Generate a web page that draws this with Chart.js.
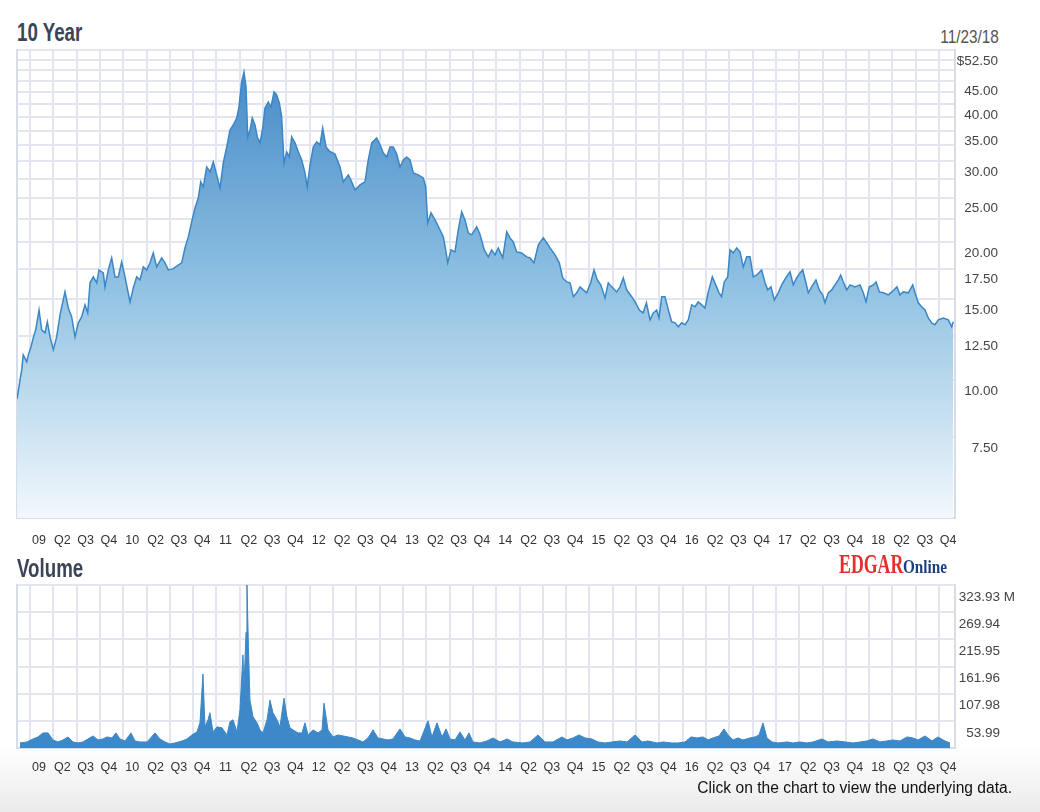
<!DOCTYPE html>
<html>
<head>
<meta charset="utf-8">
<script src="https://cdn.jsdelivr.net/npm/chart.js@4.4.1/dist/chart.umd.min.js"></script>
<style>
    body {
        margin: 0;
        width: 1040px;
        height: 812px;
        position: relative;
        overflow: hidden;
        background: linear-gradient(to bottom, #ffffff 0px, #ffffff 745px, #ebebeb 812px);
        font-family: 'Liberation Sans', sans-serif;
    }
    .heading {
        position: absolute;
        left: 17px;
        font-size: 26px;
        font-weight: bold;
        color: #3b4456;
        white-space: nowrap;
        transform: scaleX(0.72);
        transform-origin: 0 0;
    }
    #asof {
        position: absolute; right: 41px; top: 27px; font-size: 18px; color: #555;
        transform: scaleX(0.85); transform-origin: 100% 0;
    }
    #edgar {
        position: absolute; left: 839px; top: 549px;
        font-family: 'Liberation Serif', serif; font-weight: bold; font-size: 27px;
        color: #e2302f; transform: scaleX(0.66); transform-origin: 0 0; white-space: nowrap;
    }
    #online {
        position: absolute; left: 903px; top: 556px;
        font-family: 'Liberation Serif', serif; font-weight: bold; font-size: 18.6px;
        color: #1d3f7d; transform: scaleX(0.82); transform-origin: 0 0; white-space: nowrap;
    }
    #note {
        position: absolute; right: 28px; top: 779px;
        font-size: 15.6px; color: #111; white-space: nowrap;
    }
    #priceBox { position: absolute; left: 0; top: 0; }
    #volumeBox { position: absolute; left: 0; top: 570px; }
</style>
</head>
<body>
<div class="heading" style="top:17px">10 Year</div>
<div id="asof">11/23/18</div>
<canvas id="priceBox" width="1040" height="560"></canvas>
<div class="heading" style="top:553px">Volume</div>
<div id="edgar">EDGAR</div>
<div id="online">Online</div>
<canvas id="volumeBox" width="1040" height="242"></canvas>
<div id="note">Click on the chart to view the underlying data.</div>

<script>
// dates are decimal years
const priceDates = [
    2008.861, 2008.911, 2008.928, 2008.965, 2008.982, 2009.011, 2009.035, 2009.061, 2009.097, 2009.125,
    2009.161, 2009.186, 2009.215, 2009.250, 2009.286, 2009.322, 2009.375, 2009.411, 2009.447, 2009.483,
    2009.518, 2009.554, 2009.590, 2009.619, 2009.644, 2009.679, 2009.715, 2009.740, 2009.786, 2009.804,
    2009.840, 2009.876, 2009.912, 2009.947, 2009.983, 2010.019, 2010.073, 2010.108, 2010.144, 2010.180,
    2010.215, 2010.252, 2010.287, 2010.322, 2010.359, 2010.412, 2010.448, 2010.483, 2010.537, 2010.590,
    2010.627, 2010.662, 2010.698, 2010.734, 2010.770, 2010.805, 2010.831, 2010.859, 2010.895, 2010.931,
    2010.966, 2011.002, 2011.038, 2011.073, 2011.110, 2011.145, 2011.180, 2011.217, 2011.241, 2011.270,
    2011.295, 2011.317, 2011.335, 2011.360, 2011.384, 2011.413, 2011.438, 2011.467, 2011.496, 2011.520,
    2011.556, 2011.585, 2011.617, 2011.646, 2011.674, 2011.699, 2011.724, 2011.753, 2011.781, 2011.807,
    2011.842, 2011.878, 2011.914, 2011.949, 2011.974, 2012.003, 2012.038, 2012.075, 2012.110, 2012.139,
    2012.175, 2012.210, 2012.271, 2012.325, 2012.360, 2012.414, 2012.450, 2012.486, 2012.539, 2012.593,
    2012.628, 2012.665, 2012.718, 2012.754, 2012.789, 2012.826, 2012.861, 2012.896, 2012.933, 2012.968,
    2013.004, 2013.040, 2013.076, 2013.111, 2013.165, 2013.218, 2013.244, 2013.265, 2013.301, 2013.344,
    2013.397, 2013.433, 2013.458, 2013.480, 2013.515, 2013.558, 2013.593, 2013.630, 2013.665, 2013.701,
    2013.737, 2013.791, 2013.826, 2013.872, 2013.915, 2013.952, 2013.987, 2014.022, 2014.070, 2014.113,
    2014.148, 2014.183, 2014.220, 2014.273, 2014.327, 2014.363, 2014.405, 2014.452, 2014.505, 2014.542,
    2014.577, 2014.631, 2014.677, 2014.713, 2014.756, 2014.792, 2014.827, 2014.863, 2014.899, 2014.934,
    2014.971, 2015.013, 2015.049, 2015.084, 2015.121, 2015.167, 2015.202, 2015.239, 2015.292, 2015.328,
    2015.363, 2015.400, 2015.453, 2015.489, 2015.535, 2015.575, 2015.611, 2015.650, 2015.685, 2015.721,
    2015.746, 2015.775, 2015.810, 2015.846, 2015.882, 2015.918, 2015.953, 2015.989, 2016.025, 2016.060,
    2016.097, 2016.132, 2016.167, 2016.204, 2016.239, 2016.275, 2016.318, 2016.354, 2016.390, 2016.418,
    2016.446, 2016.483, 2016.508, 2016.543, 2016.579, 2016.615, 2016.650, 2016.687, 2016.722, 2016.757,
    2016.794, 2016.847, 2016.883, 2016.912, 2016.947, 2016.983, 2017.025, 2017.062, 2017.105, 2017.151,
    2017.186, 2017.222, 2017.258, 2017.287, 2017.322, 2017.347, 2017.383, 2017.429, 2017.465, 2017.501,
    2017.526, 2017.562, 2017.598, 2017.633, 2017.669, 2017.695, 2017.723, 2017.759, 2017.795, 2017.848,
    2017.902, 2017.937, 2017.966, 2018.002, 2018.045, 2018.074, 2018.110, 2018.153, 2018.207, 2018.243,
    2018.297, 2018.331, 2018.366, 2018.420, 2018.467, 2018.492, 2018.527, 2018.563, 2018.599, 2018.634,
    2018.671, 2018.706, 2018.741, 2018.795, 2018.849, 2018.885, 2018.902
];
const prices = [
    9.10, 10.52, 11.35, 10.96, 11.35, 11.82, 12.36, 12.87, 14.22, 12.87,
    12.68, 13.40, 12.42, 11.64, 12.42, 13.87, 15.57, 14.36, 13.73, 12.42,
    13.33, 13.73, 14.59, 14.01, 16.30, 16.79, 16.30, 17.39, 17.13, 15.97,
    17.39, 18.47, 16.79, 16.79, 18.11, 16.79, 14.81, 15.89, 16.79, 16.54,
    17.65, 17.39, 18.02, 18.94, 17.65, 18.47, 18.02, 17.39, 17.50, 17.82,
    18.02, 19.42, 20.53, 22.13, 23.74, 24.96, 27.06, 26.40, 29.17, 28.46,
    29.92, 28.03, 26.25, 29.77, 32.26, 35.13, 36.01, 37.30, 39.42, 44.71,
    47.00, 43.59, 33.91, 35.13, 37.30, 36.01, 33.91, 32.92, 35.48, 39.22,
    40.43, 39.42, 42.52, 41.89, 40.23, 37.49, 29.77, 31.45, 30.68, 33.91,
    32.92, 31.45, 30.22, 28.31, 26.40, 29.46, 32.26, 33.08, 32.59, 35.48,
    32.26, 31.60, 31.13, 29.17, 27.06, 28.03, 27.06, 25.99, 26.65, 27.06,
    30.22, 32.92, 33.74, 32.59, 31.29, 30.68, 32.26, 32.26, 31.13, 29.17,
    30.22, 30.68, 30.22, 28.31, 28.03, 27.61, 26.40, 22.02, 23.16, 22.35,
    21.26, 20.53, 19.23, 18.02, 19.23, 19.04, 21.26, 23.28, 22.35, 20.95,
    20.74, 21.58, 20.80, 19.23, 18.57, 19.23, 18.75, 19.42, 18.47, 21.05,
    20.43, 20.02, 19.04, 18.94, 18.57, 18.47, 18.02, 19.73, 20.43, 19.93,
    19.42, 18.75, 18.02, 16.70, 16.37, 16.30, 15.20, 15.50, 15.97, 15.73,
    15.50, 16.30, 17.39, 16.54, 16.13, 15.11, 16.30, 15.97, 15.57, 15.97,
    16.70, 15.73, 15.20, 14.81, 14.22, 14.01, 14.74, 13.53, 14.01, 14.22,
    13.66, 15.20, 15.20, 14.22, 13.40, 13.33, 13.07, 13.33, 13.20, 13.53,
    14.59, 14.45, 14.81, 14.59, 14.36, 15.57, 16.79, 16.13, 15.50, 15.20,
    16.37, 16.79, 19.23, 18.94, 19.42, 19.04, 17.65, 18.57, 18.57, 16.79,
    16.95, 17.39, 16.30, 15.73, 15.97, 14.96, 15.50, 16.13, 16.70, 17.22,
    16.13, 16.70, 17.13, 17.39, 16.30, 15.50, 15.97, 16.54, 15.73, 15.34,
    14.74, 15.50, 15.73, 16.13, 16.54, 16.95, 16.37, 15.73, 16.13, 15.97,
    16.13, 15.50, 14.81, 15.97, 16.13, 16.37, 15.57, 15.50, 15.34, 15.57,
    15.97, 15.34, 15.57, 15.50, 16.13, 15.50, 14.74, 14.45, 14.22, 13.66,
    13.33, 13.20, 13.53, 13.66, 13.53, 13.07, 13.40
];

const volumeDates = [
    2008.893, 2008.968, 2009.032, 2009.086, 2009.139, 2009.193, 2009.247, 2009.300, 2009.354, 2009.408,
    2009.461, 2009.515, 2009.568, 2009.622, 2009.676, 2009.729, 2009.783, 2009.826, 2009.879, 2009.922,
    2009.965, 2010.019, 2010.083, 2010.126, 2010.180, 2010.255, 2010.341, 2010.394, 2010.448, 2010.501,
    2010.555, 2010.630, 2010.684, 2010.737, 2010.791, 2010.823, 2010.855, 2010.877, 2010.909, 2010.930,
    2010.963, 2011.006, 2011.059, 2011.113, 2011.145, 2011.177, 2011.220, 2011.252, 2011.284, 2011.295,
    2011.317, 2011.327, 2011.343, 2011.359, 2011.392, 2011.435, 2011.467, 2011.499, 2011.542, 2011.574,
    2011.606, 2011.649, 2011.681, 2011.724, 2011.756, 2011.788, 2011.821, 2011.874, 2011.917, 2011.949,
    2011.982, 2012.035, 2012.089, 2012.132, 2012.153, 2012.196, 2012.250, 2012.303, 2012.357, 2012.411,
    2012.464, 2012.518, 2012.571, 2012.625, 2012.679, 2012.732, 2012.786, 2012.840, 2012.893, 2012.968,
    2013.022, 2013.075, 2013.129, 2013.183, 2013.269, 2013.311, 2013.365, 2013.419, 2013.462, 2013.505,
    2013.558, 2013.612, 2013.665, 2013.708, 2013.751, 2013.826, 2013.901, 2013.966, 2014.041, 2014.116,
    2014.180, 2014.287, 2014.363, 2014.448, 2014.523, 2014.609, 2014.706, 2014.759, 2014.824, 2014.888,
    2014.952, 2015.027, 2015.092, 2015.167, 2015.242, 2015.328, 2015.403, 2015.489, 2015.564, 2015.628,
    2015.725, 2015.789, 2015.885, 2015.950, 2016.025, 2016.089, 2016.154, 2016.218, 2016.272, 2016.325,
    2016.390, 2016.443, 2016.486, 2016.540, 2016.593, 2016.647, 2016.722, 2016.776, 2016.819, 2016.861,
    2016.904, 2016.958, 2017.022, 2017.119, 2017.183, 2017.258, 2017.333, 2017.398, 2017.494, 2017.559,
    2017.655, 2017.741, 2017.827, 2017.902, 2017.977, 2018.041, 2018.116, 2018.191, 2018.255, 2018.331,
    2018.406, 2018.470, 2018.523, 2018.599, 2018.674, 2018.738, 2018.813, 2018.867
];
// millions of shares
const volumes = [
    10, 12, 18, 22, 30, 30, 16, 12, 16, 22,
    12, 10, 12, 18, 24, 16, 18, 22, 20, 30,
    18, 14, 30, 14, 12, 12, 30, 18, 12, 8,
    10, 14, 18, 26, 32, 50, 147, 42, 56, 70,
    32, 42, 40, 26, 52, 56, 32, 76, 185, 120,
    230, 323.93, 200, 95, 62, 50, 36, 30, 56, 95,
    70, 56, 42, 99, 62, 40, 36, 30, 30, 50,
    26, 36, 30, 36, 89, 36, 22, 26, 24, 22,
    20, 16, 12, 20, 36, 20, 18, 16, 18, 38,
    22, 20, 16, 14, 54, 22, 50, 22, 38, 18,
    16, 32, 16, 30, 12, 10, 14, 20, 12, 18,
    12, 10, 12, 26, 12, 12, 22, 16, 20, 26,
    20, 18, 12, 10, 12, 14, 12, 26, 12, 14,
    10, 12, 10, 10, 12, 22, 20, 22, 16, 20,
    24, 38, 26, 16, 20, 16, 20, 22, 26, 50,
    20, 12, 10, 12, 10, 12, 10, 12, 18, 12,
    14, 12, 10, 12, 14, 18, 12, 14, 16, 14,
    22, 20, 16, 24, 14, 22, 14, 10
];

const priceLabelValues = [52.5, 45, 40, 35, 30, 25, 20, 17.5, 15, 12.5, 10, 7.5];
const priceMin = 5;
const priceMax = 52.5;
const priceGridStep = 2.5;
const volumeMax = 323.93;
const volumeTickLabels = ['', '53.99', '107.98', '161.96', '215.95', '269.94', '323.93 M'];
const quarterNames = ['', 'Q2', 'Q3', 'Q4'];
const xStart = 2008.8606;
const xEnd = 2018.9206;

const FONT = "'Liberation Sans', Arial, sans-serif";
const GRID = '#e3e6ee';
const BORDER = '#d8dce6';
const BLUE = '#3b86c6';

const priceGrid = [];
for (let v = priceMin; v <= priceMax + 0.001; v += priceGridStep) priceGrid.push(v);

function quarterTicks(scale) {
    const t = [];
    for (let q = 0; q < 40; q++) t.push({ value: 2009 + q * 0.25 });
    scale.ticks = t;
}

function quarterLabel(v) {
    const q = Math.round(v * 4) % 4;
    if (q === 0) return String(Math.round(v) % 100).padStart(2, '0');
    return quarterNames[q];
}

function xAxis(pad) {
    return {
        type: 'linear',
        min: xStart,
        max: xEnd,
        bounds: 'data',
        afterBuildTicks: quarterTicks,
        afterFit: s => { s.height = 30; },
        grid: { color: GRID, lineWidth: 2, drawTicks: false },
        border: { color: BORDER, width: 2 },
        ticks: {
            autoSkip: false, maxRotation: 0, padding: pad, labelOffset: 9,
            color: '#333', font: { family: FONT, size: 12.5 },
            callback: quarterLabel
        }
    };
}

Chart.defaults.animation = false;

new Chart(document.getElementById('priceBox'), {
    type: 'line',
    data: {
        datasets: [{
            data: priceDates.map((d, i) => ({ x: d, y: prices[i] })),
            yAxisID: 'yGrid',
            borderColor: BLUE,
            borderWidth: 1.5,
            pointRadius: 0,
            tension: 0,
            fill: 'start',
            backgroundColor: function (ctx) {
                const area = ctx.chart.chartArea;
                if (!area) return 'rgba(80,150,210,0.5)';
                const g = ctx.chart.ctx.createLinearGradient(0, area.top, 0, area.bottom);
                g.addColorStop(0, '#3f86c5');
                g.addColorStop(0.5, '#8fc1e2');
                g.addColorStop(1, '#f2f8fc');
                return g;
            }
        }]
    },
    options: {
        responsive: false,
        events: [],
        layout: { padding: { left: 17, top: 50, right: 42, bottom: 12 } },
        plugins: { legend: { display: false }, tooltip: { enabled: false } },
        scales: {
            x: xAxis(15),
            yGrid: {
                type: 'logarithmic',
                position: 'left',
                min: priceMin,
                max: priceMax,
                afterBuildTicks: s => { s.ticks = priceGrid.map(v => ({ value: v })); },
                afterFit: s => { s.width = 0; },
                grid: { color: GRID, lineWidth: 2, drawTicks: false },
                border: { color: BORDER, width: 2 },
                ticks: { display: false }
            },
            yLabels: {
                type: 'logarithmic',
                position: 'right',
                min: priceMin,
                max: priceMax,
                afterBuildTicks: s => { s.ticks = priceLabelValues.map(v => ({ value: v })); },
                afterFit: s => { s.width = 43; },
                grid: { color: 'rgba(0,0,0,0)', drawTicks: false },
                border: { color: BORDER, width: 2 },
                ticks: {
                    crossAlign: 'far', padding: 2, labelOffset: 11, autoSkip: false,
                    color: '#444', font: { family: FONT, size: 13.5 },
                    callback: v => v === 52.5 ? '$52.50' : v.toFixed(2)
                }
            }
        }
    }
});

new Chart(document.getElementById('volumeBox'), {
    type: 'line',
    data: {
        datasets: [{
            data: volumeDates.map((d, i) => ({ x: d, y: volumes[i] })),
            yAxisID: 'vGrid',
            borderColor: BLUE,
            borderWidth: 1,
            pointRadius: 0,
            tension: 0,
            fill: 'origin',
            backgroundColor: '#3d88c8'
        }]
    },
    options: {
        responsive: false,
        events: [],
        layout: { padding: { left: 17, top: 15, right: 25, bottom: 34 } },
        plugins: { legend: { display: false }, tooltip: { enabled: false } },
        scales: {
            x: xAxis(12),
            vGrid: {
                type: 'linear',
                position: 'left',
                min: 0,
                max: volumeMax,
                afterBuildTicks: s => { s.ticks = volumeTickLabels.map((l, k) => ({ value: volumeMax * k / 6 })); },
                afterFit: s => { s.width = 0; },
                grid: { color: GRID, lineWidth: 2, drawTicks: false },
                border: { color: BORDER, width: 2 },
                ticks: { display: false }
            },
            vLabels: {
                type: 'linear',
                position: 'right',
                min: 0,
                max: volumeMax,
                afterBuildTicks: s => { s.ticks = volumeTickLabels.map((l, k) => ({ value: volumeMax * k / 6 })); },
                afterFit: s => { s.width = 60; },
                grid: { color: 'rgba(0,0,0,0)', drawTicks: false },
                border: { color: BORDER, width: 2 },
                ticks: {
                    crossAlign: 'far', padding: 3, labelOffset: 12, autoSkip: false,
                    color: '#444', font: { family: FONT, size: 13.5 },
                    callback: (v, i) => {
                        const l = volumeTickLabels[i];
                        return l.endsWith('M') || l === '' ? l : l + '\u2007\u2007';
                    }
                }
            }
        }
    }
});
</script>
</body>
</html>
